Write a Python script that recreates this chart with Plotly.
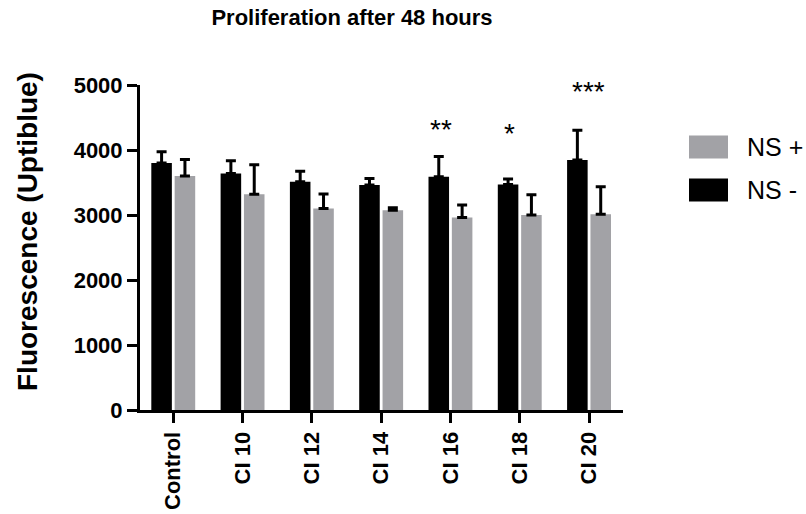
import plotly.graph_objects as go

categories = ["Control", "CI 10", "CI 12", "CI 14", "CI 16", "CI 18", "CI 20"]
ns_minus = [3800, 3640, 3510, 3460, 3590, 3470, 3845]
ns_minus_err = [175, 195, 165, 100, 310, 85, 460]
ns_plus = [3600, 3320, 3100, 3075, 2960, 3000, 3010]
ns_plus_err = [255, 455, 225, 35, 195, 310, 425]
series_names = ["NS -", "NS +"]
sig_categories = ["CI 16", "CI 18", "CI 20"]
sig_labels = ["**", "*", "***"]
sig_values = [4374, 4320, 4954]
y_ticks = [0, 1000, 2000, 3000, 4000, 5000]

BLACK = "#000000"
GRAY = "#a2a2a6"
FONT = "Liberation Sans"

W, H = 806, 514
L, R, T, B = 140, 183, 85, 104

fig = go.Figure()
fig.add_trace(go.Bar(
    x=categories, y=ns_minus, name=series_names[0],
    marker=dict(color=BLACK, line=dict(width=0)),
    error_y=dict(type="data", array=ns_minus_err, arrayminus=[0] * len(ns_minus_err),
                 symmetric=False, color=BLACK, thickness=3, width=5),
    showlegend=False,
))
fig.add_trace(go.Bar(
    x=categories, y=ns_plus, name=series_names[1],
    marker=dict(color=GRAY, line=dict(width=0)),
    error_y=dict(type="data", array=ns_plus_err, arrayminus=[0] * len(ns_plus_err),
                 symmetric=False, color=BLACK, thickness=3, width=5),
    showlegend=False,
))

# significance stars
star_xshift = [-9, -10, -1]
for cat, lab, val, xs in zip(sig_categories, sig_labels, sig_values, star_xshift):
    fig.add_annotation(x=cat, y=val, xref="x", yref="y", text=lab, showarrow=False,
                       xshift=xs, yshift=-4, yanchor="middle",
                       font=dict(family=FONT, size=28, color=BLACK))

# manual legend (NS + on top, NS - below)
PW, PH = W - L - R, H - T - B
legend_items = [(series_names[1], GRAY, 147), (series_names[0], BLACK, 190)]
for name, col, yc in legend_items:
    fig.add_shape(type="rect", xref="paper", yref="paper",
                  x0=(689 - L) / PW, x1=(728 - L) / PW,
                  y0=(H - B - (yc + 11.5)) / PH, y1=(H - B - (yc - 11.5)) / PH,
                  fillcolor=col, line=dict(width=0), layer="above")
    fig.add_annotation(xref="paper", yref="paper",
                       x=(745 - L) / PW, y=(H - B - yc) / PH,
                       text=name, showarrow=False, xanchor="left", yanchor="middle",
                       font=dict(family=FONT, size=25, color=BLACK))

# y-axis title as annotation
fig.add_annotation(xref="paper", yref="paper",
                   x=(27 - L) / PW, y=(H - B - 232) / PH,
                   text="Fluorescence (Uptiblue)", textangle=-90, showarrow=False,
                   xanchor="center", yanchor="middle",
                   font=dict(family=FONT, size=28, color=BLACK, weight="bold"))

fig.update_layout(
    width=W, height=H,
    margin=dict(l=L, r=R, t=T, b=B, autoexpand=False),
    paper_bgcolor="white", plot_bgcolor="white",
    barmode="group", bargap=0.326, bargroupgap=0.12,
    title=dict(text="Proliferation after 48 hours", x=352 / W, xanchor="center",
               xref="container", yref="container", y=1 - 17 / H, yanchor="middle",
               font=dict(family=FONT, size=22, color=BLACK, weight="bold")),
    xaxis=dict(
        range=[-0.48, 6.49], showline=True, linecolor=BLACK, linewidth=3,
        ticks="outside", ticklen=10, tickwidth=3, tickcolor=BLACK,
        tickangle=-90, showgrid=False, zeroline=False,
        tickfont=dict(family=FONT, size=22, color=BLACK, weight="bold"),
    ),
    yaxis=dict(
        range=[0, 5000], tickvals=y_ticks, showline=True, linecolor=BLACK, linewidth=3,
        ticks="outside", ticklen=10, tickwidth=3, tickcolor=BLACK,
        showgrid=False, zeroline=False,
        tickfont=dict(family=FONT, size=22, color=BLACK, weight="bold"),
    ),
)

fig.write_html("out.html", config={"displayModeBar": False},
               post_script="document.body.style.margin='0px';")
